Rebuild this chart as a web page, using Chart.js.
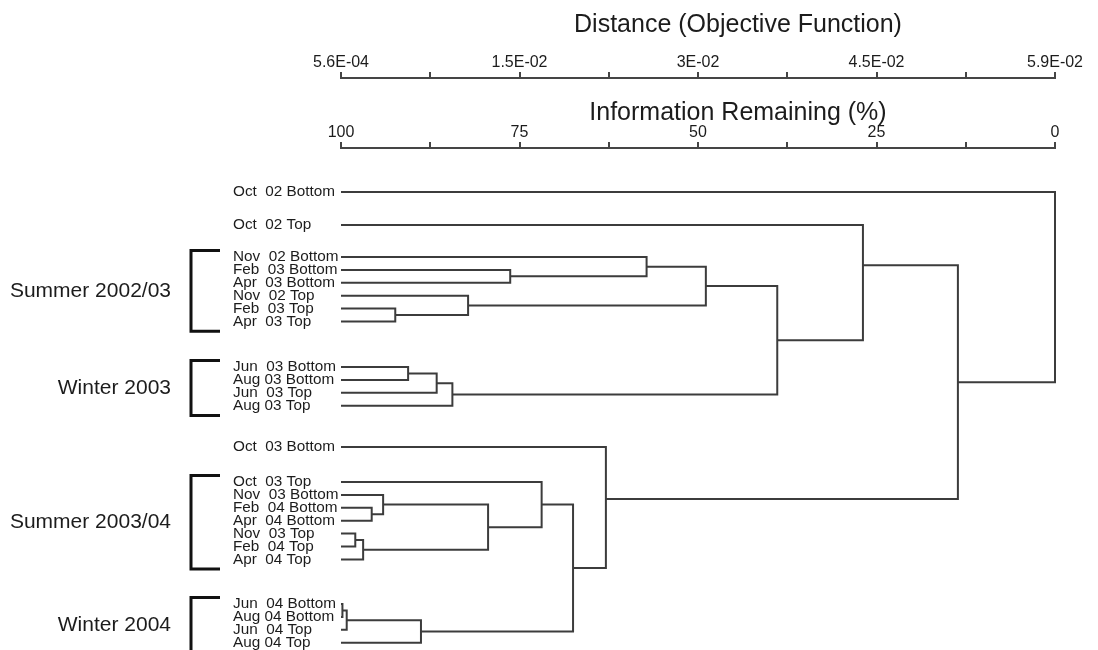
<!DOCTYPE html>
<html>
<head>
<meta charset="utf-8">
<script src="https://cdn.jsdelivr.net/npm/chart.js@4/dist/chart.umd.min.js"></script>
<style>
  html, body { margin: 0; padding: 0; background: #ffffff; }
  canvas { display: block; }
</style>
</head>
<body>
<canvas id="dendro" width="1098" height="650"></canvas>
<script>
// Samples, listed top to bottom
const leafNames = [
  'Oct  02 Bottom', 'Oct  02 Top',
  'Nov  02 Bottom', 'Feb  03 Bottom', 'Apr  03 Bottom', 'Nov  02 Top', 'Feb  03 Top', 'Apr  03 Top',
  'Jun  03 Bottom', 'Aug 03 Bottom', 'Jun  03 Top', 'Aug 03 Top',
  'Oct  03 Bottom',
  'Oct  03 Top', 'Nov  03 Bottom', 'Feb  04 Bottom', 'Apr  04 Bottom', 'Nov  03 Top', 'Feb  04 Top', 'Apr  04 Top',
  'Jun  04 Bottom', 'Aug 04 Bottom', 'Jun  04 Top', 'Aug 04 Top'
];

// Seasonal groups (first and last sample index of each)
const groupNames = ['Summer 2002/03', 'Winter 2003', 'Summer 2003/04', 'Winter 2004'];
const groupFirst = [2, 8, 13, 20];
const groupLast = [7, 11, 19, 23];

// Fusion steps: nodes 0-23 are samples, node 24 + k is the cluster formed at step k
const joinA = [20, 24, 17, 26, 15, 14, 6, 8, 25, 31, 33, 5, 29, 3, 13, 38, 12, 2, 41, 42, 1, 44, 0];
const joinB = [21, 22, 18, 19, 16, 28, 7, 9, 23, 10, 11, 30, 27, 4, 36, 32, 39, 37, 35, 34, 43, 40, 45];
// Information remaining (%) at each fusion
const joinInfo = [99.8, 99.2, 98.0, 96.9, 95.7, 94.1, 92.4, 90.6, 88.8, 86.6, 84.4, 82.2, 79.4, 76.3, 71.9, 67.5, 62.9, 57.2, 48.9, 38.9, 26.9, 13.6, 0];

// Axis scales
const distanceRange = [5.6e-4, 5.9e-2];
const distanceTickLabels = ['5.6E-04', '1.5E-02', '3E-02', '4.5E-02', '5.9E-02'];
const infoTickLabels = ['100', '75', '50', '25', '0'];

// ---- layout of the rows ----
const rowGapBefore = { 1: 1.56, 2: 1.48, 8: 2.53, 12: 2.2, 13: 1.71, 20: 2.46 };
const connectorAt = { 40: 0.43, 44: 0.35 };   // where a cluster's stem leaves its bracket
const yRange = [-3.411, 35.504];

const nLeaves = leafNames.length;
const nodeRow = [];
let r = 0;
for (let i = 0; i < nLeaves; i++) {
  if (i > 0) r += 1 + (rowGapBefore[i] || 0);
  nodeRow.push(r);
}
const nodeInfo = new Array(nLeaves).fill(100);
joinA.forEach((a, k) => {
  const b = joinB[k];
  const node = nLeaves + k;
  const t = connectorAt[node] !== undefined ? connectorAt[node] : 0.5;
  nodeRow[node] = nodeRow[a] + (nodeRow[b] - nodeRow[a]) * t;
  nodeInfo[node] = joinInfo[k];
});

const lineColor = '#3c3c3c';
const datasets = joinA.map((a, k) => {
  const b = joinB[k];
  return {
    data: [
      { x: nodeInfo[a], y: nodeRow[a] },
      { x: joinInfo[k], y: nodeRow[a] },
      { x: joinInfo[k], y: nodeRow[b] },
      { x: nodeInfo[b], y: nodeRow[b] }
    ],
    showLine: true,
    borderColor: lineColor,
    borderWidth: 2,
    pointRadius: 0,
    tension: 0,
    fill: false,
    clip: false,
    xAxisID: 'x',
    yAxisID: 'yLeaf'
  };
});

const groupTop = groupFirst.map(i => nodeRow[i] - 0.5);
const groupBottom = groupLast.map(i => nodeRow[i] + 0.75);
const groupMid = groupTop.map((t, g) => (t + groupBottom[g]) / 2);

const FONT = '"Liberation Sans", Arial, Helvetica, sans-serif';
const textColor = '#1c1c1c';
const axisColor = '#454545';

function setHeight(h) {
  return scale => { scale.height = h; scale.paddingLeft = 0; scale.paddingRight = 0; };
}
function setWidth(w) {
  return scale => { scale.width = w; scale.paddingTop = 0; scale.paddingBottom = 0; };
}

// Axis titles and seasonal brackets
const decorations = {
  id: 'decorations',
  afterDraw(chart) {
    const ctx = chart.ctx;
    const area = chart.chartArea;
    const cx = area.left + (area.right - area.left) * 0.556;
    ctx.save();
    ctx.fillStyle = textColor;
    ctx.textAlign = 'center';
    ctx.textBaseline = 'middle';
    ctx.font = '25px ' + FONT;
    ctx.fillText('Distance (Objective Function)', cx, 25);
    ctx.fillText('Information Remaining (%)', cx, 113);

    const ys = chart.scales.yLeaf;
    const gs = chart.scales.yGroup;
    const xv = gs.right - 42;
    const xe = gs.right - 13;
    ctx.strokeStyle = '#111111';
    ctx.lineWidth = 3;
    ctx.lineJoin = 'miter';
    groupNames.forEach((name, g) => {
      const top = ys.getPixelForValue(groupTop[g]);
      const bottom = ys.getPixelForValue(groupBottom[g]);
      ctx.beginPath();
      ctx.moveTo(xe, top);
      ctx.lineTo(xv, top);
      ctx.lineTo(xv, bottom);
      ctx.lineTo(xe, bottom);
      ctx.stroke();
    });
    ctx.restore();
  }
};

const xGrid = {
  display: true,
  drawOnChartArea: false,
  drawTicks: true,
  tickLength: 6,
  color: axisColor,
  lineWidth: 2
};
const xBorder = { display: true, color: axisColor, width: 2 };
const tickFont = { family: FONT, size: 16 };

new Chart(document.getElementById('dendro'), {
  type: 'scatter',
  data: { datasets },
  plugins: [decorations],
  options: {
    responsive: false,
    animation: false,
    events: [],
    layout: { padding: { left: 0, right: 43, top: 0, bottom: 0 } },
    plugins: { legend: { display: false }, tooltip: { enabled: false } },
    scales: {
      x: {
        type: 'linear',
        position: 'top',
        weight: 0,
        min: 0,
        max: 100,
        reverse: true,
        grid: xGrid,
        border: xBorder,
        afterBuildTicks: s => { s.ticks = [0, 1, 2, 3, 4, 5, 6, 7, 8].map(k => ({ value: 100 - k * 12.5 })); },
        afterFit: setHeight(70),
        ticks: {
          autoSkip: false,
          maxRotation: 0,
          padding: 0,
          color: textColor,
          font: tickFont,
          callback: v => (v % 25 === 0 ? infoTickLabels[(100 - v) / 25] : '')
        }
      },
      xd: {
        type: 'linear',
        position: 'top',
        weight: 1,
        min: distanceRange[0],
        max: distanceRange[1],
        grid: xGrid,
        border: xBorder,
        afterBuildTicks: s => {
          const step = (distanceRange[1] - distanceRange[0]) / 8;
          s.ticks = [0, 1, 2, 3, 4, 5, 6, 7, 8].map(k => ({ value: distanceRange[0] + k * step }));
        },
        afterFit: setHeight(78),
        ticks: {
          autoSkip: false,
          maxRotation: 0,
          padding: 0,
          color: textColor,
          font: tickFont,
          callback: (v, i) => (i % 2 === 0 ? distanceTickLabels[i / 2] : '')
        }
      },
      yLeaf: {
        type: 'linear',
        position: 'left',
        weight: 0,
        min: yRange[0],
        max: yRange[1],
        reverse: true,
        grid: { display: false, drawTicks: false },
        border: { display: false },
        afterBuildTicks: s => { s.ticks = leafNames.map((n, i) => ({ value: nodeRow[i] })); },
        afterFit: setWidth(108),
        ticks: {
          autoSkip: false,
          crossAlign: 'far',
          padding: 0,
          color: textColor,
          font: { family: FONT, size: 15.3, lineHeight: 1.0 },
          callback: (v, i) => leafNames[i]
        }
      },
      yGroup: {
        type: 'linear',
        position: 'left',
        weight: 1,
        min: yRange[0],
        max: yRange[1],
        reverse: true,
        grid: { display: false, drawTicks: false },
        border: { display: false },
        afterBuildTicks: s => { s.ticks = groupMid.map(m => ({ value: m })); },
        afterFit: setWidth(233),
        ticks: {
          autoSkip: false,
          crossAlign: 'near',
          padding: 62,
          color: textColor,
          font: { family: FONT, size: 21 },
          callback: (v, i) => groupNames[i]
        }
      }
    }
  }
});
</script>
</body>
</html>
